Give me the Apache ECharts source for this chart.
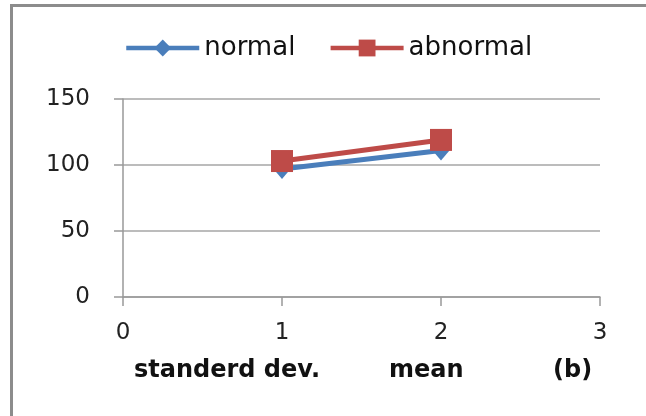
<!DOCTYPE html>
<html><head><meta charset="utf-8">
<script src="https://cdn.jsdelivr.net/npm/echarts@6/dist/echarts.min.js"></script>
<style>html,body{margin:0;padding:0;background:#fff}#c{width:646px;height:416px}</style>
</head><body><div id="c"></div>
<script>
const seriesNames = ['normal', 'abnormal'];
const xValues = [1, 2];
const normalValues = [97, 111];
const abnormalValues = [103, 119];
const yTicks = [0, 50, 100, 150];
const xTicks = [0, 1, 2, 3];
const bottomLabels = ['standerd dev.', 'mean', '(b)'];

const chart = echarts.init(document.getElementById('c'));
const font = '"DejaVu Sans", Verdana, sans-serif';
chart.setOption({
  animation: false,
  backgroundColor: '#fff',
  grid: { left: 123, right: 46, top: 99, bottom: 119 },
  legend: {
    top: 30, left: 119,
    itemWidth: 73, itemHeight: 21, itemGap: 33,
    lineStyle: { width: 4.5 },
    textStyle: { fontSize: 26, color: '#111', fontFamily: font },
    data: seriesNames
  },
  xAxis: {
    type: 'value', min: xTicks[0], max: xTicks[xTicks.length - 1], interval: 1,
    axisLine: { show: true, lineStyle: { color: '#999', width: 1.5 } },
    axisTick: { show: true, length: 9, lineStyle: { color: '#999', width: 1.5 } },
    axisLabel: { fontSize: 23, color: '#222', margin: 25, fontFamily: font },
    splitLine: { show: false }
  },
  yAxis: {
    type: 'value', min: yTicks[0], max: yTicks[yTicks.length - 1], interval: 50,
    axisLine: { show: true, lineStyle: { color: '#999', width: 1.5 } },
    axisTick: { show: true, length: 9, lineStyle: { color: '#999', width: 1.5 } },
    axisLabel: { fontSize: 23, color: '#222', margin: 33, fontFamily: font },
    splitLine: { show: true, lineStyle: { color: '#a6a6a6', width: 1.5 } }
  },
  series: [
    {
      name: seriesNames[0], type: 'line',
      data: xValues.map((x, i) => [x, normalValues[i]]),
      symbol: 'diamond', symbolSize: [17, 20],
      lineStyle: { color: '#4a7ebb', width: 5 },
      itemStyle: { color: '#4a7ebb' }
    },
    {
      name: seriesNames[1], type: 'line',
      data: xValues.map((x, i) => [x, abnormalValues[i]]),
      symbol: 'rect', symbolSize: 22,
      lineStyle: { color: '#be4b48', width: 5 },
      itemStyle: { color: '#be4b48' }
    }
  ],
  graphic: [
    { type: 'rect', shape: { x: 11.5, y: 5.5, width: 700, height: 500 },
      style: { fill: null, stroke: '#8c8c8c', lineWidth: 3 }, silent: true },
    { type: 'text', x: 134, y: 371, style: { text: bottomLabels[0], font: 'bold 24px ' + font, fill: '#111', verticalAlign: 'middle' } },
    { type: 'text', x: 389, y: 371, style: { text: bottomLabels[1], font: 'bold 24px ' + font, fill: '#111', verticalAlign: 'middle' } },
    { type: 'text', x: 553, y: 371, style: { text: bottomLabels[2], font: 'bold 24px ' + font, fill: '#111', verticalAlign: 'middle' } }
  ]
});
</script></body></html>
